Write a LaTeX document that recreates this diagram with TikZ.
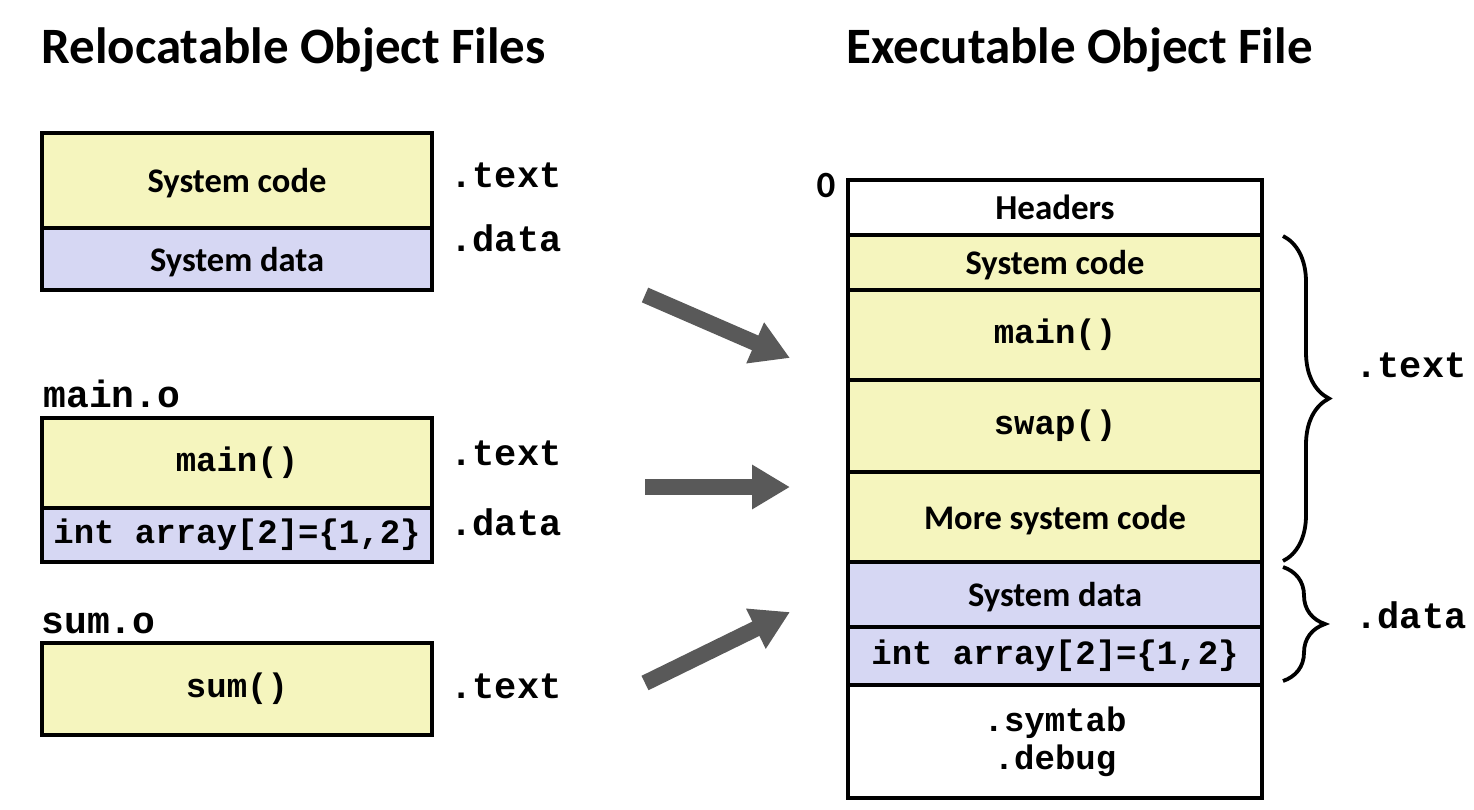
\documentclass[tikz,border=0pt]{standalone}
\usepackage{fontspec}
\setmainfont{Carlito}
\newfontfamily\codefont{Liberation Mono}
\usetikzlibrary{arrows.meta,decorations.pathreplacing}

\definecolor{codefill}{RGB}{245,245,190}
\definecolor{datafill}{RGB}{214,215,243}
\definecolor{arrowgray}{RGB}{89,89,89}

\begin{document}
\begin{tikzpicture}[x=1pt,y=-1pt,
  seg/.style={draw=black, line width=4.5pt, inner sep=0pt, outer sep=0pt,
    anchor=north west, align=center},
  codeseg/.style={seg, fill=codefill},
  dataseg/.style={seg, fill=datafill},
  plainseg/.style={seg, fill=white},
  sans/.style={font=\bfseries\fontsize{#1}{#1}\selectfont, text depth=0pt},
  mono/.style={font=\codefont\bfseries\fontsize{#1}{#1}\selectfont},
  title/.style={anchor=base west, font=\bfseries\fontsize{51}{56}\selectfont},
  seclabel/.style={anchor=west, mono=37},
  bigarrow/.style={draw=arrowgray, line width=16pt,
    -{Triangle[width=42pt,length=38pt]}},
  secbrace/.style={draw=black, line width=3.8pt, decorate,
    decoration={brace, amplitude=#1}}
]
\useasboundingbox (0,0) rectangle (1474,809);

% titles
\node[title] (ttlrel) at (38,63) {Relocatable Object Files};
\node[title] (ttlexe) at (843,63) {Executable Object File};

% system object
\node[codeseg, sans=34.5, minimum width=390pt, minimum height=95pt] (lsyscode) at (42,133) {System code};
\node[dataseg, sans=34.5, minimum width=390pt, minimum height=62pt] (lsysdata) at (42,228) {System data};
\node[seclabel] (lsystext) at (447,175) {.text};
\node[seclabel] (lsysdatal) at (447,238) {.data};

% main.o
\node[anchor=west, mono=38] (mainolbl) at (40,394) {main.o};
\node[codeseg, mono=34, minimum width=390pt, minimum height=90pt] (lmain) at (42,418) {main()};
\node[dataseg, mono=34, minimum width=390pt, minimum height=54pt] (larray) at (42,508) {int array[2]=\{1,2\}};
\node[seclabel] (lmaintext) at (447,453) {.text};
\node[seclabel] (lmaindata) at (447,522) {.data};

% sum.o
\node[anchor=west, mono=38] (sumolbl) at (38,623) {sum.o};
\node[codeseg, mono=34, minimum width=390pt, minimum height=92pt] (lsum) at (42,643) {sum()};
\node[seclabel] (lsumtext) at (447,686) {.text};

% linking arrows
\coordinate (a1s) at (645,295);
\coordinate (a1e) at (790,358);
\coordinate (a2s) at (645,487);
\coordinate (a2e) at (790,487);
\coordinate (a3s) at (645,683);
\coordinate (a3e) at (790,612);
\draw[bigarrow] (a1s) -- (a1e);
\draw[bigarrow] (a2s) -- (a2e);
\draw[bigarrow] (a3s) -- (a3e);

% executable object file
\node[sans=37] (zero) at (826,185) {0};
\node[plainseg, sans=35, minimum width=414pt, minimum height=55pt] (rhdr) at (848,180) {Headers};
\node[codeseg, sans=34.5, minimum width=414pt, minimum height=55pt] (rsyscode) at (848,235) {System code};
\node[codeseg, mono=34, minimum width=414pt, minimum height=90pt] (rmain) at (848,290) {main()};
\node[codeseg, mono=34, minimum width=414pt, minimum height=92pt] (rswap) at (848,380) {swap()};
\node[codeseg, sans=34.5, minimum width=414pt, minimum height=90pt] (rmore) at (848,472) {More system code};
\node[dataseg, sans=34.5, minimum width=414pt, minimum height=65pt] (rsysdata) at (848,562) {System data};
\node[dataseg, mono=34, minimum width=414pt, minimum height=58pt] (rarray) at (848,627) {int array[2]=\{1,2\}};
\node[plainseg, mono=34, minimum width=414pt, minimum height=113pt] (rsym) at (848,685) {.symtab\\[4pt].debug};

% section braces
\coordinate (b1t) at (1283,236);
\coordinate (b1b) at (1283,561);
\coordinate (b2t) at (1283,567);
\coordinate (b2b) at (1283,681);
\draw[secbrace=46pt] (b1t) -- (b1b);
\draw[secbrace=42pt] (b2t) -- (b2b);
\node[seclabel] (rtext) at (1352,365) {.text};
\node[seclabel] (rdata) at (1352,615) {.data};
\end{tikzpicture}
\end{document}
